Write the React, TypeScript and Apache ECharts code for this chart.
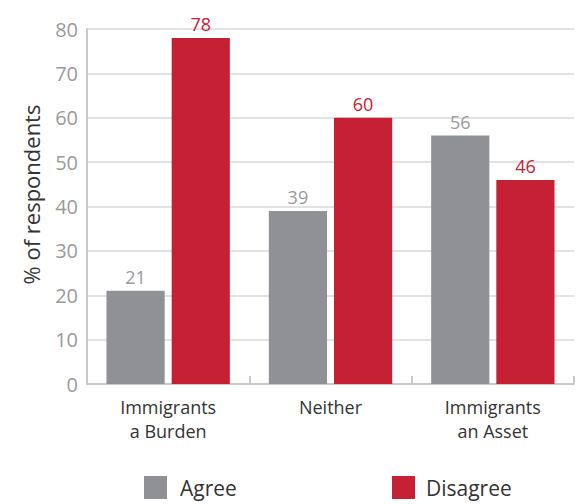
import React, { useEffect, useRef } from "react";
import * as echarts from "echarts";

const categories = ["Immigrants\na Burden", "Neither", "Immigrants\nan Asset"];
const agreeValues = [21, 39, 56];
const disagreeValues = [78, 60, 46];
const yTicks = { min: 0, max: 80, interval: 10 };

const FONT = "'Open Sans', 'Noto Sans', sans-serif";

export default function App() {
  const ref = useRef<HTMLDivElement>(null);
  useEffect(() => {
    if (!ref.current) return;
    const chart = echarts.init(ref.current, null, { renderer: "svg" });
    const legendText = { fontSize: 21, color: "#333", fontFamily: FONT, padding: [0, 0, 0, 8] };
    chart.setOption({
      animation: false,
      textStyle: { fontFamily: FONT },
      grid: { left: 87, right: 4, top: 29, bottom: 120 },
      legend: [
        {
          data: ["Agree"],
          left: 139,
          top: 471,
          itemWidth: 23,
          itemHeight: 23,
          icon: "rect",
          textStyle: legendText,
        },
        {
          data: ["Disagree"],
          left: 387,
          top: 471,
          itemWidth: 23,
          itemHeight: 23,
          icon: "rect",
          textStyle: { ...legendText, padding: [0, 0, 0, 6] },
        },
      ],
      xAxis: {
        type: "category",
        data: categories,
        axisLine: { show: true, lineStyle: { color: "#c8c8c8", width: 2 } },
        axisTick: { show: true, inside: true, length: 8, lineStyle: { color: "#c8c8c8", width: 2 } },
        axisLabel: { fontSize: 18, color: "#333", lineHeight: 24, margin: 11, fontFamily: FONT },
      },
      yAxis: {
        type: "value",
        min: yTicks.min,
        max: yTicks.max,
        interval: yTicks.interval,
        name: "% of respondents",
        nameLocation: "middle",
        nameGap: 45,
        nameTextStyle: { fontSize: 22, color: "#333", fontFamily: FONT, padding: [0, 0, 0, 24] },
        axisLine: { show: true, lineStyle: { color: "#c8c8c8", width: 2 } },
        axisTick: { show: false },
        axisLabel: { fontSize: 20, color: "#9a9a9a", margin: 9, fontFamily: FONT },
        splitLine: { show: true, lineStyle: { color: "#d8d8d8", width: 1.5 } },
      },
      series: [
        {
          name: "Agree",
          type: "bar",
          data: agreeValues,
          barGap: "12%",
          barCategoryGap: "24%",
          itemStyle: { color: "#8f9194" },
          label: { show: true, position: "top", distance: 5, fontSize: 18, color: "#9a9a9a", fontFamily: FONT },
        },
        {
          name: "Disagree",
          type: "bar",
          data: disagreeValues,
          itemStyle: { color: "#c52033" },
          label: { show: true, position: "top", distance: 5, fontSize: 18, color: "#c52033", fontFamily: FONT },
        },
      ],
    });
    return () => chart.dispose();
  }, []);
  return <div ref={ref} style={{ width: 578, height: 504, position: "absolute", left: 0, top: 0 }} />;
}
